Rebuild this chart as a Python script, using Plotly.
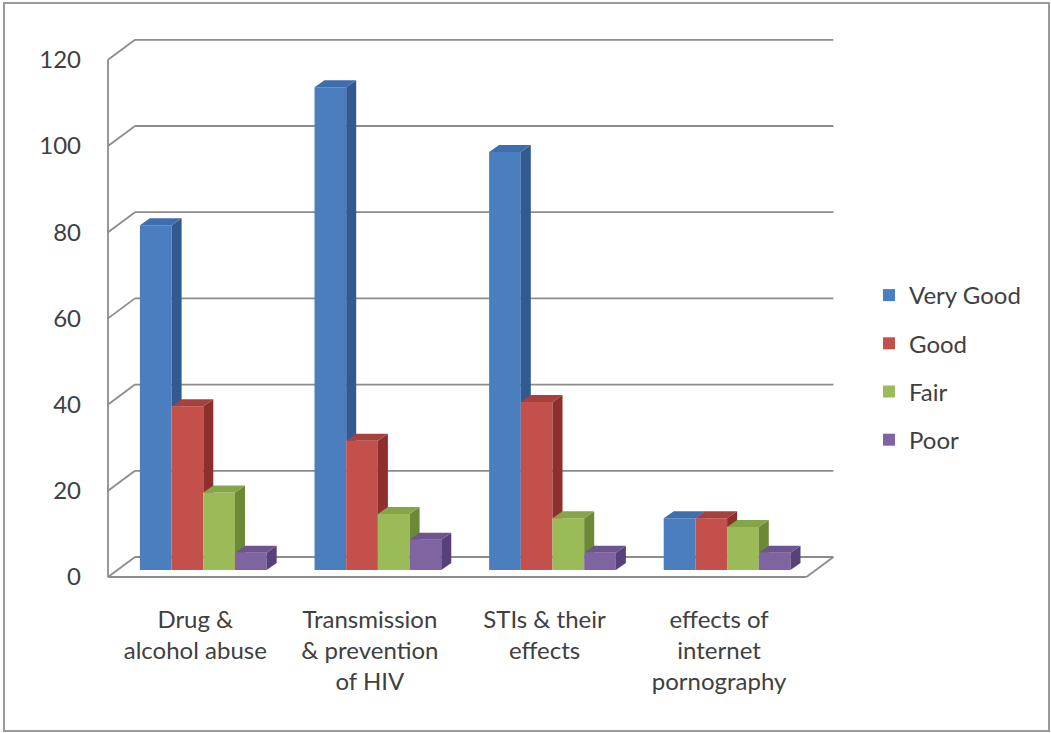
import plotly.graph_objects as go

# ---- data ----
categories = [
    "Drug &<br>alcohol abuse",
    "Transmission<br>& prevention<br>of HIV",
    "STIs & their<br>effects",
    "effects of<br>internet<br>pornography",
]
series_names = ["Very Good", "Good", "Fair", "Poor"]
very_good = [80, 112, 97, 12]
good = [38, 30, 39, 12]
fair = [18, 13, 12, 10]
poor = [4, 7, 4, 4]
y_ticks = [0, 20, 40, 60, 80, 100, 120]

series_values = [very_good, good, fair, poor]

# ---- styling ----
front_colors = ["#4a7ebf", "#c4504c", "#9bbb59", "#8064a2"]
side_colors = ["#315b8f", "#8e2f2c", "#6b8a35", "#56417a"]
top_colors = ["#3f6eae", "#a8403d", "#85a548", "#6c5590"]
text_color = "#404040"
grid_color = "#8c8c8c"
font_family = "Lato"
font_size = 24

# pixel geometry of the page / plot area
W, H = 1051, 733
ML, MR, MT, MB = 100, 206, 30, 141
PW, PH = W - ML - MR, H - MT - MB
X_RANGE = [-0.5458, 3.7211]
Y_RANGE = [-3.48, 126.91]
px_per_x = PW / (X_RANGE[1] - X_RANGE[0])
px_per_y = PH / (Y_RANGE[1] - Y_RANGE[0])

# oblique projection offsets (in data units)
WALL_DX, WALL_DY = 27 / px_per_x, 20 / px_per_y      # back wall depth
BAR_DX, BAR_DY = 10 / px_per_x, 7 / px_per_y         # column depth
BAR_LIFT = 7 / px_per_y                              # column front sits above the floor edge
BAR_SHIFT = 8 / px_per_x                             # column front sits right of the category slot
BARGAP = 0.274
n_series = len(series_names)
bar_w = (1 - BARGAP) / n_series

fig = go.Figure()

# front faces of the columns
for j, name in enumerate(series_names):
    fig.add_trace(go.Bar(
        x=[i + BAR_SHIFT for i in range(len(categories))],
        y=series_values[j],
        base=[BAR_LIFT] * len(categories),
        name=name,
        legendgroup=name,
        marker=dict(color=front_colors[j], line=dict(width=0)),
        hoverinfo="skip",
    ))


def clip_above(poly, level):
    """Keep the part of a polygon with y >= level."""
    out = []
    n = len(poly)
    for k in range(n):
        (x1, y1), (x2, y2) = poly[k], poly[(k + 1) % n]
        in1, in2 = y1 >= level, y2 >= level
        if in1:
            out.append((x1, y1))
        if in1 != in2:
            t = (level - y1) / (y2 - y1)
            out.append((x1 + t * (x2 - x1), level))
    return out


def add_face(poly, color):
    if len(poly) < 3:
        return
    xs = [p[0] for p in poly] + [poly[0][0]]
    ys = [p[1] for p in poly] + [poly[0][1]]
    fig.add_trace(go.Scatter(
        x=xs, y=ys, mode="lines", fill="toself", fillcolor=color,
        line=dict(width=0, color=color), showlegend=False, hoverinfo="skip",
    ))


# side and top faces, painted left to right inside each group
for i in range(len(categories)):
    for j in range(n_series):
        v = series_values[j][i]
        cx = i + BAR_SHIFT + (j - (n_series - 1) / 2) * bar_w
        xl, xr = cx - bar_w / 2, cx + bar_w / 2
        b, t = BAR_LIFT, BAR_LIFT + v
        side = [(xr, b), (xr, t), (xr + BAR_DX, t + BAR_DY), (xr + BAR_DX, b + BAR_DY)]
        if j < n_series - 1:
            side = clip_above(side, BAR_LIFT + series_values[j + 1][i])
        add_face(side, side_colors[j])
        top = [(xl, t), (xr, t), (xr + BAR_DX, t + BAR_DY), (xl + BAR_DX, t + BAR_DY)]
        add_face(top, top_colors[j])

# walls, floor and gridlines
shapes = []
line = dict(color=grid_color, width=1.8)
x_front_l, x_front_r = -0.5, len(categories) - 0.5
for v in y_ticks:
    # left wall diagonal and back wall gridline
    shapes.append(dict(type="line", xref="x", yref="y", layer="below",
                       x0=x_front_l, y0=v, x1=x_front_l + WALL_DX, y1=v + WALL_DY, line=line))
    shapes.append(dict(type="line", xref="x", yref="y", layer="below",
                       x0=x_front_l + WALL_DX, y0=v + WALL_DY,
                       x1=x_front_r + WALL_DX, y1=v + WALL_DY, line=line))
# left wall front edge
shapes.append(dict(type="line", xref="x", yref="y", layer="below",
                   x0=x_front_l, y0=0, x1=x_front_l, y1=y_ticks[-1], line=line))
# floor front edge and right edge
shapes.append(dict(type="line", xref="x", yref="y", layer="below",
                   x0=x_front_l, y0=0, x1=x_front_r, y1=0, line=line))
shapes.append(dict(type="line", xref="x", yref="y", layer="below",
                   x0=x_front_r, y0=0, x1=x_front_r + WALL_DX, y1=WALL_DY, line=line))
# chart border
shapes.append(dict(type="rect", xref="paper", yref="paper", layer="above",
                   x0=(4 - ML) / PW, x1=(1049 - ML) / PW,
                   y0=1 - (731 - MT) / PH, y1=1 - (3 - MT) / PH,
                   line=dict(color="#9a9a9a", width=2)))

fig.update_layout(
    width=W, height=H, autosize=False,
    margin=dict(l=ML, r=MR, t=MT, b=MB, pad=0),
    paper_bgcolor="white", plot_bgcolor="white",
    barmode="group", bargap=BARGAP, bargroupgap=0,
    font=dict(family=font_family, size=font_size, color=text_color),
    shapes=shapes,
    showlegend=True,
    legend=dict(
        x=(869 - ML) / PW, y=1 - (273 - MT) / PH, xanchor="left", yanchor="top",
        traceorder="grouped", tracegroupgap=14,
        font=dict(family=font_family, size=font_size, color=text_color),
        bgcolor="rgba(0,0,0,0)", itemclick=False, itemdoubleclick=False,
    ),
    xaxis=dict(
        range=X_RANGE, showgrid=False, zeroline=False, showline=False,
        tickmode="array", tickvals=list(range(len(categories))), ticktext=categories,
        ticks="", ticklabelstandoff=11,
    ),
    yaxis=dict(
        range=Y_RANGE, showgrid=False, zeroline=False, showline=False,
        tickmode="array", tickvals=y_ticks, ticktext=[str(v) for v in y_ticks],
        ticks="", ticklabelstandoff=18,
    ),
)

fig.write_html("out.html")
